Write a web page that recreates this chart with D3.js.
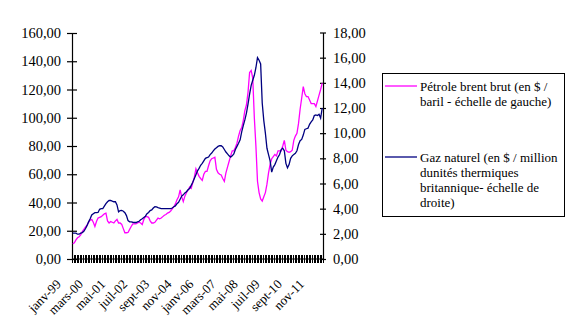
<!DOCTYPE html>
<html><head><meta charset="utf-8">
<script src="https://cdn.jsdelivr.net/npm/d3@7"></script>
<style>body{margin:0;background:#fff} svg{display:block}</style>
</head><body>
<svg id="c" width="579" height="335"></svg>
<script>
const monthNames = ["janv","févr","mars","avr","mai","juin","juil","août","sept","oct","nov","déc"];
const categories = [];
for (let y = 1999; y <= 2012; y++) for (let m = 0; m < 12; m++) {
  if (y === 2012 && m > 2) break;
  categories.push(monthNames[m] + "-" + String(y).slice(2));
}
const tickLabels = ["janv-99","mars-00","mai-01","juil-02","sept-03","nov-04","janv-06","mars-07","mai-08","juil-09","sept-10","nov-11"];
const leftTicks = [0,20,40,60,80,100,120,140,160];
const rightTicks = [0,2,4,6,8,10,12,14,16,18];

// Brent crude, $ / barrel (left scale)
const brent = [10.8,11.5,13.5,15,15.8,17,19.5,21,22.5,24,26,27.5,
28,26,23,26.5,29,29.5,30,31,32,32.5,27,25.5,
26.5,26,25.5,27,28,25.5,25.5,24.5,21.5,18.6,18.6,18.8,
21,23,24.8,24.8,24.8,25.5,26,25.5,24.4,28,30,30,
29.5,27,25.5,25.5,26,27.5,29,28.5,29,30,31,31.5,
32.5,33,34,35.5,37,39,42,44,49,44,40.6,44.5,
47,48.7,51,50,54,58,63.8,61,58.5,57,55.7,60,
62,62,66,69.5,71,71.5,72,63.5,61,60,59.5,57,
55,61,65,69,73,76.6,76.6,79,82,87,91,93,
98,105,109,118,132,133.5,128,100,80,55,47,42.5,
41,44,47,53,61,67,71,72.5,74,73,76.6,76.6,
76.6,80,84,77,76,75.5,76,77,84,87,89,96,
106,114,122,117,115,115,112.5,110,110,110,108,112,
116,120,124.5];

// Natural gas, $ / million BTU (right scale)
const gas = [2.05,2.05,2.05,1.97,1.97,2.05,2.1,2.2,2.4,2.65,2.95,3.2,
3.5,3.6,3.68,3.68,3.7,3.95,4.0,4.0,4.2,4.4,4.55,4.65,
4.66,4.6,4.55,4.55,4.3,3.75,3.85,3.87,3.8,3.68,3.45,3.05,
2.95,2.95,2.92,2.9,2.9,2.95,3.0,3.12,3.2,3.3,3.4,3.6,
3.7,3.85,3.9,4.05,4.16,4.14,4.08,4.05,4.0,4.0,4.0,4.0,
4.0,4.0,4.0,4.05,4.15,4.22,4.4,4.5,4.75,5.0,5.1,5.25,
5.35,5.5,5.6,5.85,6.1,6.4,6.7,7.0,7.2,7.45,7.6,7.8,
8.0,8.05,8.1,8.3,8.42,8.6,8.74,8.85,8.95,9.0,9.0,8.9,
8.7,8.5,8.35,8.2,8.1,8.2,8.35,8.7,8.95,9.2,9.47,10.1,
10.6,11.05,11.6,12.3,13.1,13.8,14.2,14.6,15.2,16.0,15.8,15.5,
12.4,11.0,10.0,8.8,8.3,7.8,6.9,7.3,7.5,7.8,8.1,8.3,
8.7,8.8,8.6,7.6,7.25,7.5,8.0,8.2,8.3,8.4,8.6,9.1,
9.4,9.5,9.85,10.3,10.35,10.4,10.7,10.9,11.05,11.4,11.45,11.4,
11.5,11.2,12.0];

const legendItems = [
  {color:"#FF00FF", lines:["Pétrole brent brut (en $ /","baril - échelle de gauche)"]},
  {color:"#000080", lines:["Gaz naturel (en $ / million","dunités thermiques","britannique- échelle de","droite)"]}
];

const svg = d3.select("#c");
const FONT = '"Liberation Serif"';
const L = 72, R = 323, B = 259;
const x = d3.scaleBand().domain(categories).range([L, R]).paddingInner(0).paddingOuter(0);
const yL = d3.scaleLinear().domain([0,160]).range([B, 33]);
const yR = d3.scaleLinear().domain([0,18]).range([B, 32.5]);
const fr = d => d3.format(".2f")(d).replace(".", ",");
const cx = c => x(c) + x.bandwidth()/2;

// left axis
const gl = svg.append("g").attr("transform", `translate(${L},0)`)
  .call(d3.axisLeft(yL).tickValues(leftTicks).tickFormat(fr).tickSizeOuter(0));
gl.attr("font-family", null).attr("font-size", null);
gl.select(".domain").attr("stroke","#000").attr("stroke-width",1.2);
gl.selectAll(".tick line").attr("x1",5).attr("x2",-5).attr("stroke","#000").attr("stroke-width",1.2);
gl.selectAll(".tick text").attr("x",-11).style("font-family",FONT).style("font-size","14.5px").attr("fill","#000");

// right axis
const gr = svg.append("g").attr("transform", `translate(${R},0)`)
  .call(d3.axisRight(yR).tickValues(rightTicks).tickFormat(fr).tickSizeOuter(0));
gr.attr("font-family", null).attr("font-size", null);
gr.select(".domain").attr("stroke","#000").attr("stroke-width",1.2);
gr.selectAll(".tick line").attr("x1",-3).attr("x2",3).attr("stroke","#000").attr("stroke-width",1.2);
gr.selectAll(".tick text").attr("x",10).style("font-family",FONT).style("font-size","14.5px").attr("fill","#000");

// bottom axis line and category ticks
svg.append("line").attr("x1",L).attr("x2",R).attr("y1",B).attr("y2",B).attr("stroke","#000").attr("stroke-width",1.2);
const bounds = categories.map(c => x(c)).concat([R]);
svg.append("g").selectAll("line").data(bounds).join("line")
  .attr("x1", d => Math.round(d)+0.5).attr("x2", d => Math.round(d)+0.5)
  .attr("y1", B-4).attr("y2", B+4).attr("stroke","#000").attr("stroke-width",1);

// x labels
svg.append("g").selectAll("text").data(tickLabels).join("text")
  .attr("transform", d => `translate(${cx(d)-11},${B+26}) rotate(-45)`)
  .attr("text-anchor","end").style("font-family",FONT).style("font-size","13px").attr("fill","#000")
  .text(d => d);

// lines
const lineB = d3.line().x((d,i) => cx(categories[i])).y(d => yL(d));
const lineG = d3.line().x((d,i) => cx(categories[i])).y(d => yR(d));
svg.append("path").attr("d", lineB(brent)).attr("fill","none").attr("stroke","#FF00FF").attr("stroke-width",1.3);
svg.append("path").attr("d", lineG(gas)).attr("fill","none").attr("stroke","#000080").attr("stroke-width",1.3);

// legend
const lg = svg.append("g");
lg.append("rect").attr("x",382.5).attr("y",73.5).attr("width",182).attr("height",143)
  .attr("fill","#fff").attr("stroke","#000").attr("stroke-width",1);
const legY = [86, 157];
legendItems.forEach((it, k) => {
  lg.append("line").attr("x1",385).attr("x2",417).attr("y1",legY[k]).attr("y2",legY[k])
    .attr("stroke",it.color).attr("stroke-width",1.3);
  it.lines.forEach((t, j) => {
    lg.append("text").attr("x",420).attr("y",legY[k] + 4.5 + j*15.2)
      .style("font-family",FONT).style("font-size","13px").attr("fill","#000").text(t);
  });
});
</script>
</body></html>
